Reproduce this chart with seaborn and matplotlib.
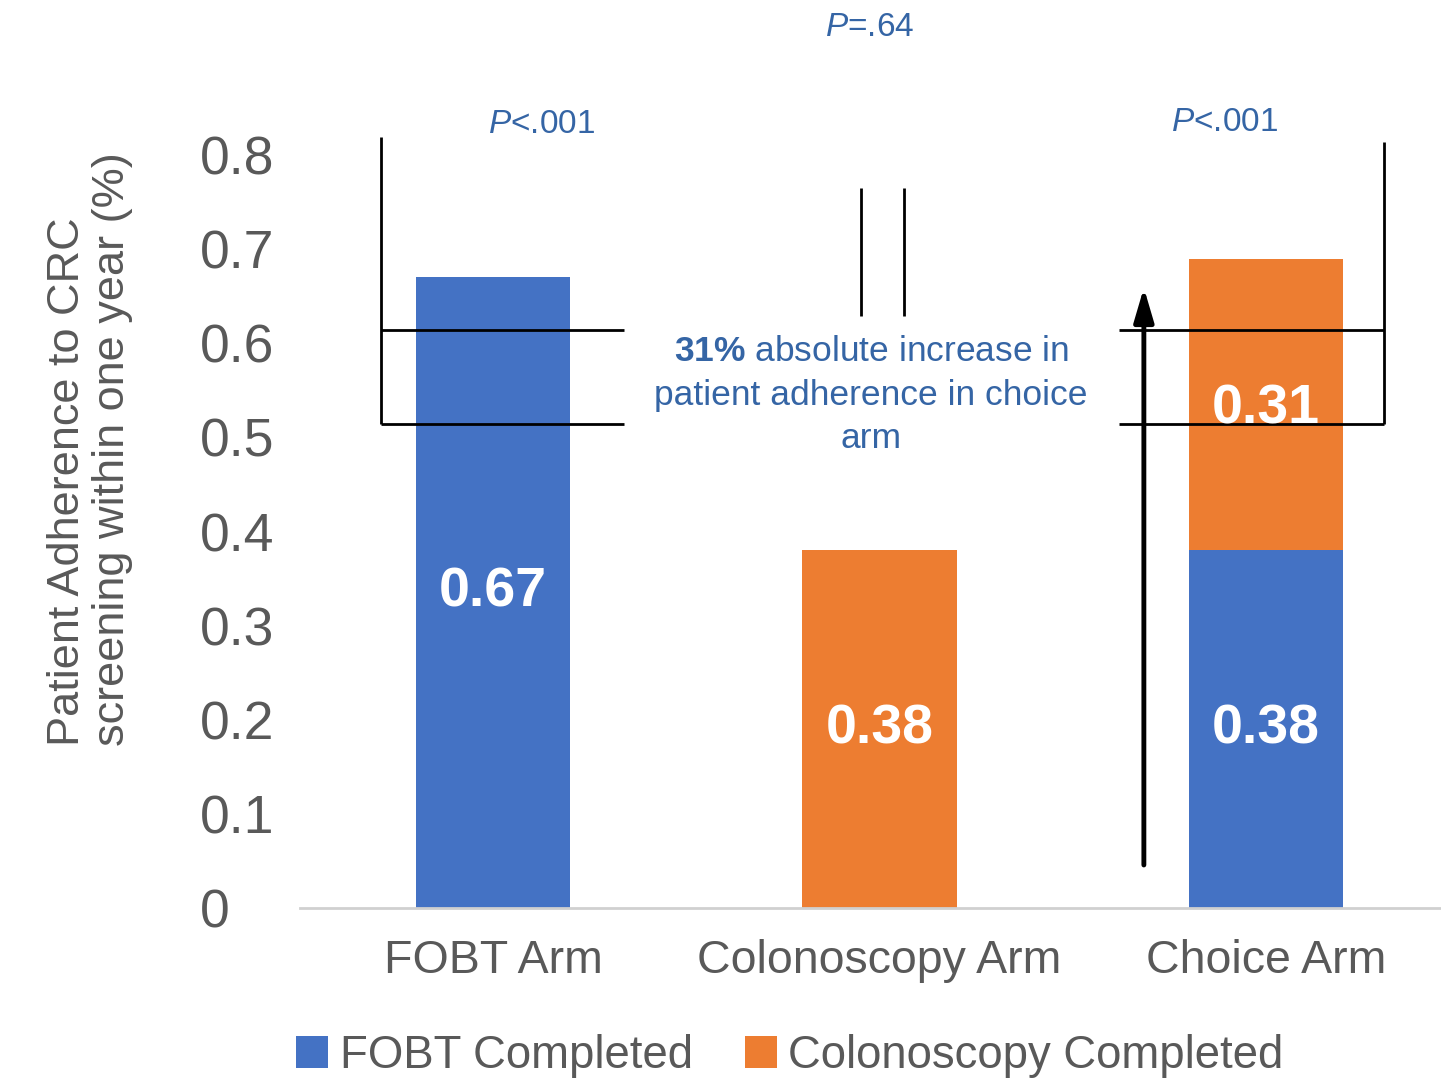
import matplotlib
matplotlib.use("Agg")
import matplotlib.pyplot as plt
import seaborn as sns
import pandas as pd
from matplotlib.patches import Patch

# ---- data ----
arms = ["FOBT Arm", "Colonoscopy Arm", "Choice Arm"]
fobt_completed = [0.67, 0.0, 0.38]
colonoscopy_completed = [0.0, 0.38, 0.31]
yticks = [0, 0.1, 0.2, 0.3, 0.4, 0.5, 0.6, 0.7, 0.8]
ytick_labels = ["0", "0.1", "0.2", "0.3", "0.4", "0.5", "0.6", "0.7", "0.8"]

BLUE = "#4472C4"
ORANGE = "#ED7D31"
GRAY = "#595959"
TXTBLUE = "#3565A5"

sns.set_theme(style="white")
plt.rcParams["font.family"] = ["Liberation Sans", "DejaVu Sans"]
plt.rcParams["mathtext.fontset"] = "custom"
plt.rcParams["mathtext.rm"] = "Liberation Sans"
plt.rcParams["mathtext.it"] = "Liberation Sans:italic"
plt.rcParams["mathtext.bf"] = "Liberation Sans:bold"

fig = plt.figure(figsize=(14.41, 10.78), dpi=100)
ax = fig.add_axes([300 / 1441, 170 / 1078, 1141 / 1441, 753 / 1078])

totals = [a + b for a, b in zip(fobt_completed, colonoscopy_completed)]
df_tot = pd.DataFrame({"arm": arms, "value": totals})
df_fobt = pd.DataFrame({"arm": arms, "value": fobt_completed})

sns.barplot(data=df_tot, x="arm", y="value", color=ORANGE, saturation=1,
            width=0.4, ax=ax, linewidth=0)
sns.barplot(data=df_fobt, x="arm", y="value", color=BLUE, saturation=1,
            width=0.4, ax=ax, linewidth=0)

ax.set_xlim(-0.5, 2.453)
ax.set_ylim(0, 0.8)
ax.set_xlabel("")
ax.set_ylabel("")
for s in ["top", "right", "left"]:
    ax.spines[s].set_visible(False)
ax.spines["bottom"].set_color("#d0d0d0")
ax.spines["bottom"].set_linewidth(2)
ax.tick_params(axis="both", length=0)
ax.set_yticks(yticks)
ax.set_yticklabels(ytick_labels, fontsize=38.5, color=GRAY, ha="left")
ax.tick_params(axis="y", pad=72)
ax.tick_params(axis="x", pad=22, labelsize=33.5, labelcolor=GRAY)

# value labels
lab = dict(ha="center", va="center", color="white", fontsize=40, fontweight="bold")
for i in range(len(arms)):
    f = fobt_completed[i]
    c = colonoscopy_completed[i]
    if f > 0 and c > 0:
        ax.text(i, 0.19, f"{f:.2f}", **lab)
        ax.text(i, 0.53, f"{c:.2f}", **lab)
    elif f > 0:
        ax.text(i, f / 2, f"{f:.2f}", **lab)
    elif c > 0:
        ax.text(i, c / 2, f"{c:.2f}", **lab)

# y label
fig.text(90 / 1441, 1 - 449 / 1078,
         "Patient Adherence to CRC\nscreening within one year (%)",
         rotation=90, ha="center", va="center", fontsize=32.5, color=GRAY,
         linespacing=1.12, multialignment="left")

# brackets / annotation lines
lk = dict(color="black", lw=2, clip_on=False, solid_capstyle="butt")
ax.plot([-0.290, -0.290], [0.819, 0.514], **lk)
ax.plot([-0.290, 0.3385], [0.614, 0.614], **lk)
ax.plot([-0.290, 0.3385], [0.514, 0.514], **lk)
ax.plot([0.952, 0.952], [0.765, 0.629], **lk)
ax.plot([1.063, 1.063], [0.765, 0.629], **lk)
ax.plot([1.620, 2.305], [0.614, 0.614], **lk)
ax.plot([1.620, 2.305], [0.514, 0.514], **lk)
ax.plot([2.305, 2.305], [0.814, 0.514], **lk)

ax.annotate("", xy=(1.684, 0.659), xytext=(1.684, 0.0457),
            arrowprops=dict(arrowstyle="-|>,head_length=1.7,head_width=0.5",
                            color="black", lw=3.5, shrinkA=0, shrinkB=0),
            annotation_clip=False)

# p-value texts
ax.text(0.975, 0.935, r"$P$=.64", ha="center", va="center", fontsize=24,
        color=TXTBLUE, clip_on=False)
ax.text(0.126, 0.832, r"$P$<.001", ha="center", va="center", fontsize=24,
        color=TXTBLUE, clip_on=False)
ax.text(1.894, 0.834, r"$P$<.001", ha="center", va="center", fontsize=24,
        color=TXTBLUE, clip_on=False)
ax.text(0.978, 0.545,
        "$\\bf{31\\%}$ absolute increase in\npatient adherence in choice\narm",
        ha="center", va="center", fontsize=25.5, color=TXTBLUE,
        linespacing=1.4, multialignment="center")

# legend
handles = [Patch(facecolor=BLUE, edgecolor="none", label="FOBT Completed"),
           Patch(facecolor=ORANGE, edgecolor="none", label="Colonoscopy Completed")]
fig.legend(handles=handles, loc="center", bbox_to_anchor=(790 / 1441, 1 - 1056 / 1078),
           ncol=2, frameon=False, fontsize=32.8, labelcolor=GRAY,
           handlelength=0.7, handleheight=0.7, handletextpad=0.25, columnspacing=1.15)

fig.savefig("out.png", dpi=100)
